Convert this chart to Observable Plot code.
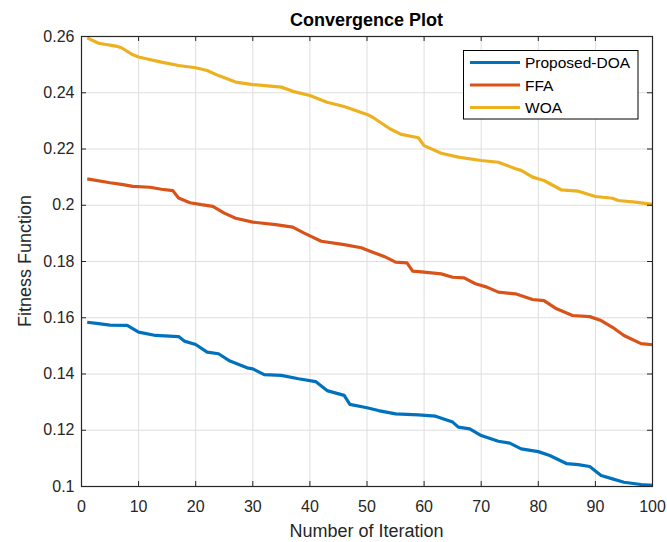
<!DOCTYPE html>
<html>
<head>
<meta charset="utf-8">
<script src="https://cdn.jsdelivr.net/npm/d3@7"></script>
<script src="https://cdn.jsdelivr.net/npm/@observablehq/plot@0.6"></script>
<style>
  html, body { margin: 0; padding: 0; background: #fff; }
  #chart svg { display: block; }
</style>
</head>
<body>
<div id="chart"></div>
<script>
const seriesNames = ["Proposed-DOA", "FFA", "WOA"];
const seriesColors = ["#0072BD", "#D95319", "#EDB120"];

const iterDOA = [1, 3, 5, 8, 10, 13, 17, 18, 20, 22, 24, 26, 29, 30, 32, 35, 38, 41, 43, 46, 47, 50, 52, 55, 59, 62, 65, 66, 68, 70, 73, 75, 77, 80, 82, 85, 87, 89, 91, 93, 95, 98, 100];
const valDOA = [0.1584, 0.1579, 0.1574, 0.1573, 0.1549, 0.1537, 0.1533, 0.1517, 0.1505, 0.1478, 0.1472, 0.1446, 0.1422, 0.1418, 0.1398, 0.1395, 0.1383, 0.1373, 0.1341, 0.1324, 0.1292, 0.1280, 0.1270, 0.1258, 0.1255, 0.1250, 0.1229, 0.1211, 0.1205, 0.1181, 0.1161, 0.1154, 0.1134, 0.1124, 0.1110, 0.1081, 0.1078, 0.1071, 0.1039, 0.1027, 0.1015, 0.1007, 0.1004];

const iterFFA = [1, 5, 7, 9, 12, 14, 16, 17, 19, 21, 23, 25, 27, 30, 34, 37, 39, 42, 46, 49, 51, 53, 55, 57, 58, 60, 63, 65, 67, 69, 71, 73, 76, 79, 81, 83, 86, 89, 91, 93, 95, 98, 100];
const valFFA = [0.2094, 0.2080, 0.2074, 0.2067, 0.2064, 0.2057, 0.2052, 0.2026, 0.2009, 0.2002, 0.1996, 0.1972, 0.1954, 0.1940, 0.1931, 0.1922, 0.1901, 0.1872, 0.1860, 0.1849, 0.1833, 0.1818, 0.1798, 0.1795, 0.1766, 0.1762, 0.1756, 0.1744, 0.1742, 0.1721, 0.1709, 0.1691, 0.1685, 0.1665, 0.1661, 0.1634, 0.1608, 0.1604, 0.1590, 0.1566, 0.1537, 0.1508, 0.1504];

const iterWOA = [1, 3, 6, 7, 9, 10, 14, 17, 20, 22, 24, 27, 30, 35, 37, 40, 43, 46, 48, 50, 51, 54, 56, 59, 60, 63, 66, 70, 73, 76, 77, 79, 81, 84, 87, 90, 93, 94, 97, 100];
const valWOA = [0.2595, 0.2576, 0.2566, 0.2560, 0.2535, 0.2527, 0.2509, 0.2497, 0.2489, 0.2479, 0.2461, 0.2438, 0.2429, 0.2420, 0.2405, 0.2390, 0.2366, 0.2351, 0.2337, 0.2323, 0.2313, 0.2272, 0.2252, 0.2240, 0.2212, 0.2185, 0.2171, 0.2159, 0.2153, 0.2130, 0.2124, 0.2100, 0.2088, 0.2055, 0.2050, 0.2031, 0.2025, 0.2017, 0.2011, 0.2003];

const xTicks = [0, 10, 20, 30, 40, 50, 60, 70, 80, 90, 100];
const yTicks = [0.1, 0.12, 0.14, 0.16, 0.18, 0.2, 0.22, 0.24, 0.26];

const titleText = "Convergence Plot";
const xLabel = "Number of Iteration";
const yLabel = "Fitness Function";

const data = [];
[[iterDOA, valDOA], [iterFFA, valFFA], [iterWOA, valWOA]].forEach(([its, vals], k) => {
  its.forEach((it, i) => data.push({series: seriesNames[k], iter: it, value: vals[i]}));
});

const W = 667, H = 542;
const mL = 81, mR = 15, mT = 36, mB = 56;
const innerW = W - mL - mR, innerH = H - mT - mB;
const tickLen = 5;
const axisColor = "#262626";
const font = "'Liberation Sans', Arial, Helvetica, sans-serif";

const chart = Plot.plot({
  width: W,
  height: H,
  marginLeft: mL,
  marginRight: mR,
  marginTop: mT,
  marginBottom: mB,
  style: {fontFamily: font, background: "#fff", overflow: "visible"},
  x: {domain: [0, 100]},
  y: {domain: [0.1, 0.26]},
  color: {domain: seriesNames, range: seriesColors},
  marks: [
    Plot.gridX(xTicks, {stroke: "#dedede", strokeOpacity: 1, strokeWidth: 1}),
    Plot.gridY(yTicks, {stroke: "#dedede", strokeOpacity: 1, strokeWidth: 1}),
    Plot.line(data, {x: "iter", y: "value", z: "series", stroke: "series", strokeWidth: 3.2, strokeLinejoin: "round", strokeLinecap: "butt"}),
    Plot.tickX(xTicks, {x: d => d, insetTop: innerH - tickLen, stroke: axisColor}),
    Plot.tickX(xTicks, {x: d => d, insetBottom: innerH - tickLen, stroke: axisColor}),
    Plot.tickY(yTicks, {y: d => d, insetRight: innerW - tickLen, stroke: axisColor}),
    Plot.tickY(yTicks, {y: d => d, insetLeft: innerW - tickLen, stroke: axisColor}),
    Plot.frame({stroke: axisColor, strokeWidth: 1.2}),
    Plot.axisX(xTicks, {tickSize: 0, tickPadding: 14, fontSize: 16, fill: axisColor, label: null, tickFormat: d3.format("d")}),
    Plot.axisY(yTicks, {tickSize: 0, tickPadding: 7, fontSize: 16, fill: axisColor, label: null, tickFormat: d3.format("~g")})
  ]
});

document.getElementById("chart").appendChild(chart);

const svg = d3.select(chart);
const xs = chart.scale("x"), ys = chart.scale("y");
const cx = (xs.apply(0) + xs.apply(100)) / 2;
const cy = (ys.apply(0.1) + ys.apply(0.26)) / 2;

svg.append("text")
  .attr("x", cx).attr("y", 26)
  .attr("text-anchor", "middle")
  .attr("font-family", font).attr("font-size", 18).attr("font-weight", "bold")
  .attr("fill", "#000")
  .text(titleText);

svg.append("text")
  .attr("x", cx).attr("y", 537)
  .attr("text-anchor", "middle")
  .attr("font-family", font).attr("font-size", 18)
  .attr("fill", axisColor)
  .text(xLabel);

svg.append("text")
  .attr("transform", `translate(${31},${cy}) rotate(-90)`)
  .attr("text-anchor", "middle")
  .attr("font-family", font).attr("font-size", 18)
  .attr("fill", axisColor)
  .text(yLabel);

// Legend
const lg = svg.append("g");
lg.append("rect")
  .attr("x", 463.5).attr("y", 50.5).attr("width", 174.5).attr("height", 68.5)
  .attr("fill", "#fff").attr("stroke", "#000").attr("stroke-width", 1);
const rowY = [62.5, 85, 107.5];
seriesNames.forEach((name, i) => {
  lg.append("line")
    .attr("x1", 470).attr("x2", 520).attr("y1", rowY[i]).attr("y2", rowY[i])
    .attr("stroke", seriesColors[i]).attr("stroke-width", 3.2);
  lg.append("text")
    .attr("x", 525).attr("y", rowY[i])
    .attr("dy", "0.36em")
    .attr("text-anchor", "start")
    .attr("font-family", font).attr("font-size", 15.5)
    .attr("fill", "#000")
    .text(name);
});
</script>
</body>
</html>
